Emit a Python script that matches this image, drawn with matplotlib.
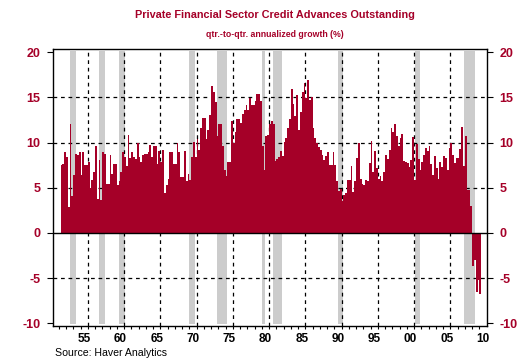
import numpy as np
import pandas as pd
import matplotlib
matplotlib.use("Agg")
import matplotlib.pyplot as plt

plt.rcParams['font.family'] = ['Liberation Sans', 'DejaVu Sans']
plt.rcParams['axes.unicode_minus'] = False

# quarterly growth, 1952Q2 .. 2010Q1
growth = [
    7.5, 7.6, 9.0, 8.4, 2.9, 12.1, 4.1, 6.4, 8.75, 8.6, 8.9, 6.4, 8.9, 7.5, 7.5, 7.9,
    5.0, 5.9, 6.7, 9.6, 3.75, 8.1, 3.7, 8.9, 8.75, 5.4, 5.4, 8.6, 6.5, 7.6, 7.6, 5.3,
    5.7, 6.7, 8.9, 8.4, 7.4, 10.8, 8.3, 8.9, 8.4, 8.2, 9.9, 8.4, 7.9, 8.6, 8.75, 8.75,
    9.0, 9.7, 8.4, 9.6, 9.6, 7.6, 9.1, 7.9, 9.2, 4.4, 5.3, 6.0, 8.9, 8.9, 7.6, 7.6,
    10.0, 8.9, 6.2, 6.2, 9.1, 5.7, 6.5, 5.9, 8.4, 10.1, 8.4, 10.4,
    9.2, 11.6, 12.7, 12.7, 10.4, 11.4, 13.0, 16.2, 15.6, 14.5, 10.7, 12.0, 12.0, 9.6, 7.0, 6.3,
    7.8, 7.8, 12.4, 9.9, 11.2, 12.6, 12.6, 12.2, 13.2, 13.6, 14.2, 13.6, 14.9, 14.2, 14.1, 14.6,
    15.4, 15.4, 14.6, 9.6, 7.0, 10.7, 10.8, 12.1, 12.4, 12.1, 8.0, 8.2, 8.4, 9.1, 8.5, 10.1,
    10.5, 11.6, 12.6, 15.9, 14.3, 12.9, 15.2, 11.4, 13.4, 15.6, 16.6, 14.9, 16.9, 14.7, 15.0, 11.6,
    10.5, 9.9, 9.5, 9.2, 8.6, 8.1, 8.5, 9.0, 7.5, 7.5, 9.0, 7.5, 5.8, 4.6, 4.9, 3.5,
    4.2, 4.4, 5.9,
    5.9, 7.4, 4.5, 5.8, 8.3, 9.9, 6.0, 5.4, 5.3, 5.9, 5.8, 7.7, 10.2, 6.7, 9.1, 7.2,
    6.0, 6.3, 5.8, 6.7, 8.6, 8.2, 9.2, 11.6, 11.2, 12.1, 10.7, 9.6, 10.5, 10.9, 8.0, 7.8,
    7.7, 7.3, 8.1, 10.6, 5.9, 9.8, 8.2, 7.0, 7.8, 8.6, 9.4, 9.1, 9.6, 7.6, 6.4, 8.5,
    7.2, 6.0, 7.8, 7.3, 8.5, 8.3, 7.0, 9.4, 9.9, 8.6, 7.7, 8.3, 8.3, 9.3, 11.7, 7.4,
    10.7, 4.8, 4.8, 3.0,
    -3.7, -3.0, -6.5, -5.2, -6.7,
]

quarters = pd.period_range('1952Q2', periods=len(growth), freq='Q')
t = quarters.year + (quarters.quarter - 1) / 4.0

# recessions (decimal years)
recessions = [(1953.5, 1954.33), (1957.58, 1958.33), (1960.33, 1961.08),
              (1969.92, 1970.83), (1973.83, 1975.17), (1980.0, 1980.5),
              (1981.5, 1982.83), (1990.5, 1991.17), (2001.17, 2001.83),
              (2007.92, 2009.42)]

year_labels = ['55', '60', '65', '70', '75', '80', '85', '90', '95', '00', '05', '10']
label_years = np.arange(1955, 2011, 5)
grid_years = np.arange(1956, 2007, 5)
y_ticks = [-10, -5, 0, 5, 10, 15, 20]

red = '#A50028'

fig = plt.figure(figsize=(5.32, 3.62), dpi=100)
ax = fig.add_axes([0.0996, 0.0994, 0.8158, 0.7639])

for a, b in recessions:
    ax.fill_between([a, b], -10.1, 20.1, color='#cccccc', lw=0, zorder=1)

for g in grid_years:
    ax.axvline(g, color='black', lw=0.9, ls=(0, (3, 3)), zorder=2)
for y in [-5, 5, 10, 15]:
    ax.axhline(y, color='black', lw=0.9, ls=(0, (3, 3)), zorder=2)

ax.bar(t, growth, width=0.25, align='edge', color=red, lw=0, zorder=3)
ax.axhline(0, color='black', lw=1.0, zorder=4)

ax.set_xlim(1951.2, 2011.05)
ax.set_ylim(-10.28, 20.28)

ax.set_xticks(label_years + 0.5)
ax.set_xticklabels(year_labels, fontsize=8.5, fontweight='bold')
ax.set_xticks(np.arange(1952, 2011), minor=True)
ax.tick_params(axis='x', which='major', length=0, pad=5)
ax.tick_params(axis='x', which='minor', length=2, width=0.8, direction='out')

ax.set_yticks(y_ticks)
ax.set_yticklabels([str(v) for v in y_ticks], fontsize=9, fontweight='bold', color=red)
ax.tick_params(axis='y', which='both', left=True, right=True, labelleft=True,
               labelright=True, direction='out', length=4, width=0.8, pad=5)
for lab in ax.get_yticklabels():
    lab.set_color(red)

for s in ax.spines.values():
    s.set_linewidth(1.0)
    s.set_color('black')

fig.text(0.517, 0.958, 'Private Financial Sector Credit Advances Outstanding',
         ha='center', va='center', fontsize=7.8, fontweight='bold', color=red)
fig.text(0.517, 0.905, 'qtr.-to-qtr. annualized growth (%)',
         ha='center', va='center', fontsize=6.3, fontweight='bold', color=red)
fig.text(0.103, 0.026, 'Source: Haver Analytics', ha='left', va='center',
         fontsize=7.6, color='black')

fig.savefig('out.png', dpi=100)
